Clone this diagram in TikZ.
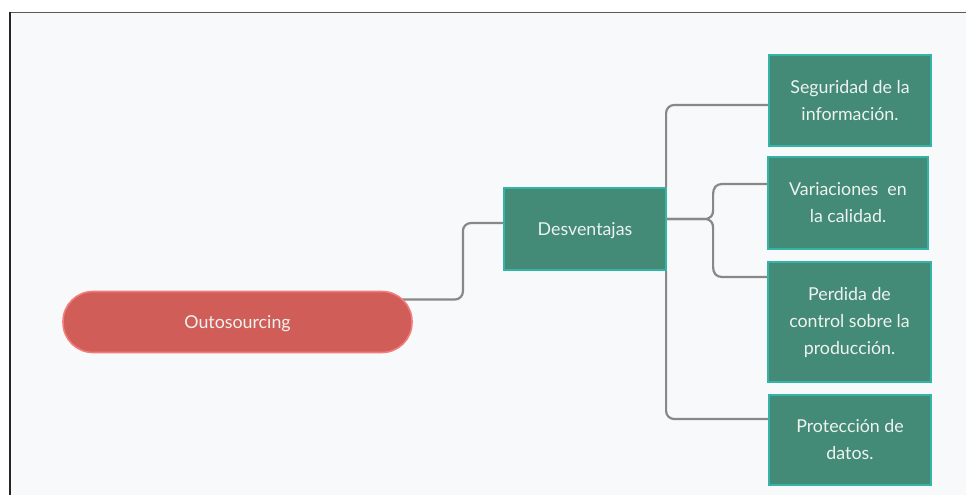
\documentclass[tikz,border=0pt]{standalone}
\usepackage{fontspec}
\setmainfont{Lato}
\usetikzlibrary{calc}
\pgfdeclarelayer{bg}
\pgfdeclarelayer{links}
\pgfsetlayers{bg,links,main}
\definecolor{boxgreen}{HTML}{438B76}
\definecolor{boxteal}{HTML}{34B3A7}
\definecolor{pillred}{HTML}{D15D58}
\definecolor{pillrim}{HTML}{F27D7B}
\definecolor{linkgray}{HTML}{888888}
\definecolor{paper}{HTML}{F8F9FB}
\definecolor{txt}{HTML}{EEF3EF}
\tikzset{
  leaf/.style={draw=boxteal, line width=2.2pt, fill=boxgreen, text=txt,
    inner sep=0pt, align=center, font=\fontsize{17.8}{27}\selectfont},
  pill/.style={draw=pillrim, line width=1.6pt, fill=pillred, text=txt,
    rounded corners=30pt, inner sep=0pt, minimum width=349pt, minimum height=61pt,
    text depth=0pt, font=\fontsize{17.8}{27}\selectfont},
  link/.style={draw=linkgray, line width=2.2pt, rounded corners=8pt}
}
\begin{document}
\begin{tikzpicture}[x=1pt,y=-1pt]
\useasboundingbox (0,0) rectangle (966,495);
\begin{pgfonlayer}{bg}
  \fill[white] (0,0) rectangle (966,495);
  \fill[paper] (10,12.5) rectangle (966,495);
  \draw[color=black!65, line width=1pt] (10,12.5) -- (966,12.5);
  \draw[color=black!85, line width=2pt] (10,12.5) -- (10,495);
\end{pgfonlayer}

\node[pill] (O) at (237.5,322) {Outosourcing};
\node[leaf, text depth=0pt, minimum width=162pt, minimum height=82pt] (D) at (585,229) {Desventajas};
\node[leaf, minimum width=162pt, minimum height=91pt] (S) at (850,100.5) {Seguridad de la\\información.};
\node[leaf, minimum width=160pt, minimum height=92pt] (V) at (848,203) {Variaciones\ \ en\\la calidad.};
\node[leaf, minimum width=163pt, minimum height=120pt] (P) at (849.5,322) {Perdida de\\control sobre la\\producción.};
\node[leaf, minimum width=162pt, minimum height=90pt] (R) at (850,440) {Protección de\\datos.};

\begin{pgfonlayer}{links}
  \draw[link] ([yshift=22.5pt]O.center) -| ([xshift=-40pt,yshift=6pt]D.west) -- ([yshift=6pt]D.west);
  \draw[link] ([xshift=-1pt]D.north east) |- ([yshift=-4.5pt]S.west);
  \draw[link] ([xshift=-1pt]D.south east) |- ([yshift=21pt]R.west);
  \draw[link, rounded corners=0pt] ([yshift=10pt]D.east) -- ++(37,0)
    .. controls ++(7,0) and ++(0,5) .. ++(9,-9)
    -- ++(0,-16)
    .. controls ++(0,-6) and ++(-6,0) .. ++(9,-10)
    -- ([yshift=19pt]V.west);
  \draw[link, rounded corners=0pt] ([yshift=10pt]D.east) -- ++(37,0)
    .. controls ++(7,0) and ++(0,-5) .. ++(9,9)
    -- ++(0,39)
    .. controls ++(0,6) and ++(-6,0) .. ++(9,10)
    -- ([yshift=45pt]P.west);
\end{pgfonlayer}
\end{tikzpicture}
\end{document}
